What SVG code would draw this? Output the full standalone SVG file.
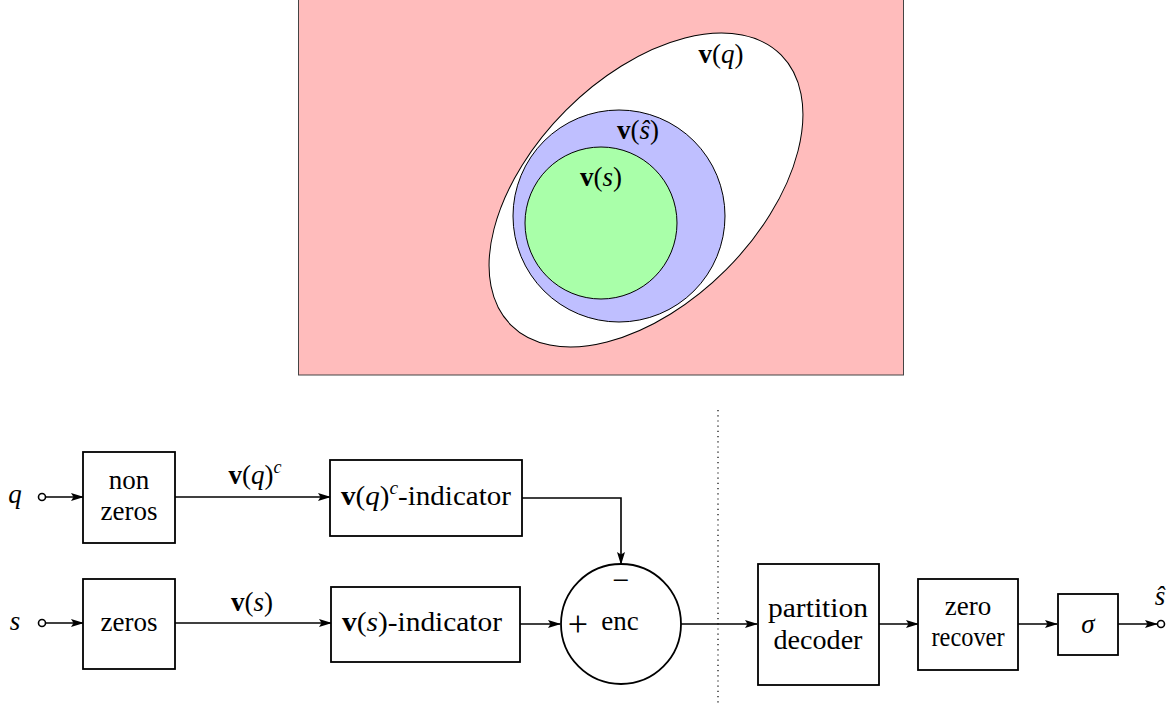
<svg xmlns="http://www.w3.org/2000/svg" width="1172" height="706" viewBox="0 0 1172 706" font-family="'Liberation Serif', 'Times New Roman', 'DejaVu Serif', serif">
<style>
text{font-family:'Liberation Serif','Times New Roman','DejaVu Serif',serif;font-size:27px;fill:#000}
.c{text-anchor:middle}
.b{font-weight:bold}
.i{font-style:italic}
.sup{font-size:18px;font-style:italic}
.plus{font-size:36px}
.minus{font-size:30px}
.box{fill:#fff;stroke:#000;stroke-width:1.8}
.ln{fill:none;stroke:#000;stroke-width:1.6}
.set{stroke:#000;stroke-width:1}
</style>
<defs>
<marker id="ar" markerWidth="13" markerHeight="10" refX="12" refY="5" orient="auto" markerUnits="userSpaceOnUse">
<path d="M0,1 L13,5 L0,9 L2.5,5 Z" fill="#000"/>
</marker>
</defs>
<g id="venn">
<rect x="298.5" y="-1" width="605" height="376" fill="#ffbcbc" stroke="#444" stroke-width="1"/>
<ellipse class="set" cx="646" cy="190" rx="191" ry="113" transform="rotate(-45 646 190)" fill="#fff"/>
<circle class="set" cx="619" cy="216" r="106" fill="#bfbfff"/>
<circle class="set" cx="601" cy="223" r="76" fill="#a9ffa9"/>
<text x="721" y="63" class="c"><tspan class="b">v</tspan>(<tspan class="i">q</tspan>)</text>
<text x="638" y="139" class="c"><tspan class="b">v</tspan>(<tspan class="i">ŝ</tspan>)</text>
<text x="601" y="186" class="c"><tspan class="b">v</tspan>(<tspan class="i">s</tspan>)</text>
</g>
<g id="connectors">
<line class="ln" x1="46" y1="497" x2="83" y2="497" marker-end="url(#ar)"/>
<line class="ln" x1="175" y1="497" x2="330" y2="497" marker-end="url(#ar)"/>
<polyline class="ln" points="522,498 621,498 621,564" marker-end="url(#ar)"/>
<line class="ln" x1="46" y1="623" x2="83" y2="623" marker-end="url(#ar)"/>
<line class="ln" x1="175" y1="623" x2="331" y2="623" marker-end="url(#ar)"/>
<line class="ln" x1="520" y1="624" x2="560" y2="624" marker-end="url(#ar)"/>
<line class="ln" x1="681" y1="624" x2="757" y2="624" marker-end="url(#ar)"/>
<line class="ln" x1="879" y1="624" x2="918" y2="624" marker-end="url(#ar)"/>
<line class="ln" x1="1018" y1="624" x2="1057" y2="624" marker-end="url(#ar)"/>
<line class="ln" x1="1117" y1="624" x2="1157" y2="624" marker-end="url(#ar)"/>
<line x1="718" y1="410" x2="718" y2="706" stroke="#000" stroke-width="1.2" stroke-dasharray="1.2 4"/>
<text x="255" y="484" class="c"><tspan class="b">v</tspan>(<tspan class="i">q</tspan>)<tspan class="sup" dy="-11">c</tspan></text>
<text x="252" y="611" class="c"><tspan class="b">v</tspan>(<tspan class="i">s</tspan>)</text>
</g>
<g id="q-in">
<text x="15" y="503" class="c i">q</text>
<circle cx="42" cy="497" r="3.5" fill="#fff" stroke="#000" stroke-width="1.6"/>
</g>
<g id="s-in">
<text x="15" y="630" class="c i">s</text>
<circle cx="42" cy="623" r="3.5" fill="#fff" stroke="#000" stroke-width="1.6"/>
</g>
<g id="nonzeros">
<rect class="box" x="83" y="452" width="92" height="91"/>
<text x="129" y="489" class="c">non</text>
<text x="129" y="520" class="c">zeros</text>
</g>
<g id="zeros">
<rect class="box" x="83" y="579" width="92" height="90"/>
<text x="129" y="631" class="c">zeros</text>
</g>
<g id="vqc-indicator">
<rect class="box" x="330" y="460" width="192" height="76"/>
<text x="426" y="505" class="c" textLength="170" lengthAdjust="spacingAndGlyphs"><tspan class="b">v</tspan>(<tspan class="i">q</tspan>)<tspan class="sup" dy="-11">c</tspan><tspan dy="11">-indicator</tspan></text>
</g>
<g id="vs-indicator">
<rect class="box" x="331" y="587" width="189" height="75"/>
<text x="422" y="631" class="c" textLength="160" lengthAdjust="spacingAndGlyphs"><tspan class="b">v</tspan>(<tspan class="i">s</tspan>)-indicator</text>
</g>
<g id="enc">
<circle cx="621" cy="624" r="60" fill="#fff" stroke="#000" stroke-width="1.8"/>
<text x="621" y="590" class="c minus">−</text>
<text x="578" y="636" class="c plus">+</text>
<text x="620" y="630" class="c">enc</text>
</g>
<g id="partition-decoder">
<rect class="box" x="758" y="564" width="121" height="121"/>
<text x="818" y="617" class="c" textLength="100" lengthAdjust="spacingAndGlyphs">partition</text>
<text x="818" y="649" class="c" textLength="89" lengthAdjust="spacingAndGlyphs">decoder</text>
</g>
<g id="zero-recover">
<rect class="box" x="918" y="579" width="100" height="91"/>
<text x="968" y="615" class="c">zero</text>
<text x="968" y="646" class="c" textLength="73" lengthAdjust="spacingAndGlyphs">recover</text>
</g>
<g id="sigma">
<rect class="box" x="1058" y="594" width="60" height="61"/>
<text x="1088" y="633" class="c i">σ</text>
</g>
<g id="shat-out">
<circle cx="1161" cy="624" r="3.5" fill="#fff" stroke="#000" stroke-width="1.6"/>
<text x="1160" y="605" class="c i">ŝ</text>
</g>
</svg>
